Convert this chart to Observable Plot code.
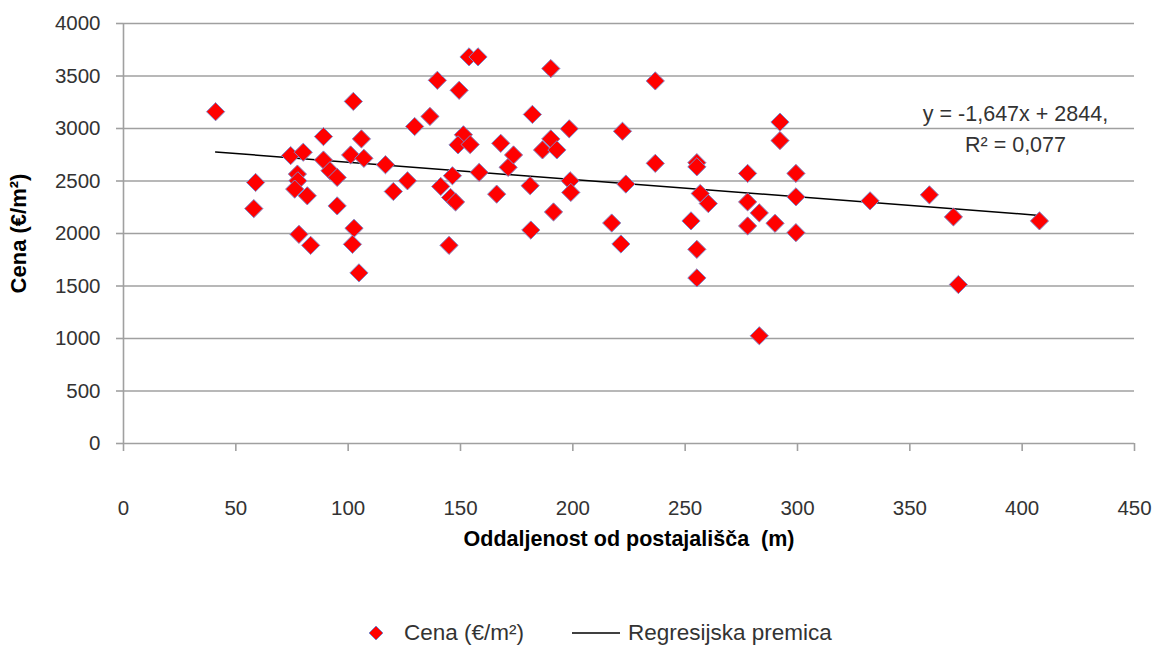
<!DOCTYPE html>
<html>
<head>
<meta charset="utf-8">
<script src="https://cdn.jsdelivr.net/npm/d3@7"></script>
<script src="https://cdn.jsdelivr.net/npm/@observablehq/plot@0.6"></script>
<style>
  body { margin: 0; background: #fff; font-family: "Liberation Sans", Arial, sans-serif; }
  #legend { position: relative; height: 30px; margin-top: 58px; font-size: 22.5px; color: #333; }
  #legend .item { position: absolute; top: 0; display: flex; align-items: center; height: 30px; white-space: nowrap; }
</style>
</head>
<body>
<div id="chart"></div>
<div id="legend">
  <div class="item" style="left:366px"><svg width="20" height="20" style="margin-right:18px"><path d="M10,3L17,10L10,17L3,10Z" fill="#ff0000" stroke="#7f86c8" stroke-width="1"/></svg><span>Cena (€/m²)</span></div>
  <div class="item" style="left:572px"><svg width="50" height="20" style="margin-right:6px"><line x1="0" y1="10" x2="48" y2="10" stroke="#000" stroke-width="1.5"/></svg><span>Regresijska premica</span></div>
</div>
<script>
const distance = [41,58.8,58,74.4,80,77.4,77.6,76.2,81.8,78.1,83.3,89,89,91.9,95.1,95.1,101.1,102.3,105.9,107,102.6,101.9,104.8,116.6,120.1,126.4,129.6,136.4,139.7,141.2,145.6,147.8,146.4,144.9,149.4,151.3,148.9,154.3,153.8,157.8,158.3,166.1,167.9,171.2,173.6,181,181.3,182,186.5,190.2,190.2,192.9,191.4,198.4,198.8,199.1,217.3,221.4,222.1,223.6,236.7,236.7,252.6,255.2,255.2,255.2,255.2,256.7,260.3,277.8,277.8,277.8,283,283,290,292.2,292.2,299.3,299.3,299.3,332.3,358.7,369.4,371.6,407.7];
const price = [3160,2486,2237,2742,2774,2566,2502,2423,2359,1992,1887,2923,2700,2598,2534,2263,2748,3258,2901,2716,2050,1897,1625,2655,2400,2502,3019,3115,3459,2448,2343,2300,2550,1887,3364,2940,2844,2847,3682,3682,2582,2375,2859,2630,2748,2455,2033,3134,2796,2901,3571,2796,2205,2997,2502,2391,2100,1900,2974,2471,3453,2668,2120,2675,2635,1849,1577,2381,2285,2572,2301,2072,2196,1026,2097,3061,2885,2572,2349,2008,2311,2368,2158,1514,2120];
const trendCoef = [-1.647, 2844]; // slope, intercept
const trendLabel = ["y = -1,647x + 2844,", "R² = 0,077"];
const xTicks = [0,50,100,150,200,250,300,350,400,450];
const yTicks = [0,500,1000,1500,2000,2500,3000,3500,4000];
const xTitle = "Oddaljenost od postajališča  (m)";
const yTitle = "Cena (€/m²)";

const points = distance.map((d, i) => ({x: d, y: price[i]}));
const xExt = d3.extent(distance);
const trend = xExt.map(x => ({x, y: trendCoef[0] * x + trendCoef[1]}));

const textColor = "#333";
const fs = 20.5;
const fmt = d => String(d);

const chart = Plot.plot({
  width: 1157,
  height: 560,
  marginTop: 23,
  marginLeft: 123,
  marginRight: 23,
  marginBottom: 117,
  style: {fontFamily: "'Liberation Sans', Arial, sans-serif", fontSize: fs + "px", color: textColor, background: "#fff"},
  x: {domain: [0, 450]},
  y: {domain: [0, 4000]},
  marks: [
    Plot.ruleY(yTicks.filter(t => t > 0), {stroke: "#a0a0a0", strokeWidth: 1.6}),
    Plot.ruleX([0], {stroke: "#a0a0a0", strokeWidth: 1.6}),
    Plot.ruleY([0], {stroke: "#a0a0a0", strokeWidth: 1.6}),
    Plot.axisY(yTicks, {tickSize: 7, tickPadding: 16, tickFormat: fmt, stroke: "#a0a0a0", strokeWidth: 1.6, fill: textColor, fontSize: fs, label: null}),
    Plot.axisX(xTicks, {tickSize: 8, tickPadding: 49, tickFormat: fmt, stroke: "#a0a0a0", strokeWidth: 1.6, fill: textColor, fontSize: fs, label: null}),
    Plot.line(trend, {x: "x", y: "y", stroke: "#000", strokeWidth: 1.5}),
    Plot.dot(points, {x: "x", y: "y", symbol: "diamond2", r: 8.2, fill: "#ff0000", stroke: "#7f86c8", strokeWidth: 1}),
    Plot.text([trendLabel.join("\n")], {frameAnchor: "top-right", dx: -119, dy: 103, textAnchor: "middle", lineAnchor: "middle", lineHeight: 1.45, fontSize: 21.5, fill: textColor}),
    Plot.text([yTitle], {frameAnchor: "left", dx: -105, rotate: -90, textAnchor: "middle", fontWeight: "bold", fontSize: 22, fill: "#000"}),
    Plot.text([xTitle], {frameAnchor: "bottom", dy: 102, fontWeight: "bold", fontSize: 21.5, fill: "#000"})
  ]
});
document.getElementById("chart").appendChild(chart);
</script>
</body>
</html>
